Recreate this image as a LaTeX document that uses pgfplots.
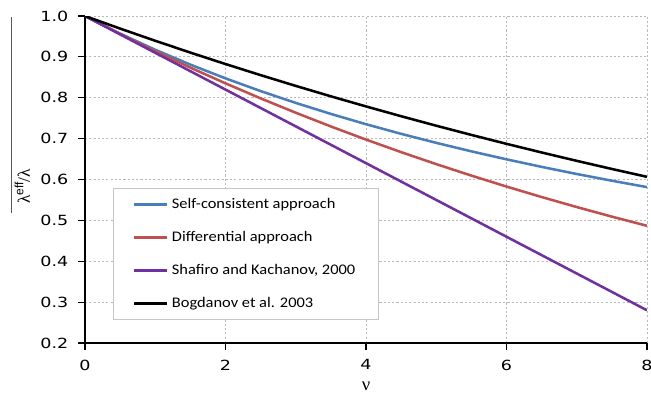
\documentclass[border=0pt]{standalone}
\usepackage{fontspec}
\usepackage{pgfplots}
\pgfplotsset{compat=1.18}
\setmainfont{DejaVu Sans}
\newfontfamily\tickfont[FakeStretch=1.25]{DejaVu Sans}
\newfontfamily\legfont[FakeStretch=1.12]{Carlito}
\newfontfamily\lamfont{Liberation Serif}
\newfontfamily\sansA{Liberation Sans}
\definecolor{cblue}{HTML}{4A7EBB}
\definecolor{cred}{HTML}{C0504D}
\definecolor{cpurple}{HTML}{7030A0}
\begin{document}
\begin{tikzpicture}
\begin{axis}[
  scale only axis,
  width=421.5pt, height=245.25pt,
  xmin=0, xmax=8, ymin=0.2, ymax=1.0,
  xtick={0,2,4,6,8},
  ytick={0.2,0.3,0.4,0.5,0.6,0.7,0.8,0.9,1.0},
  axis x line=bottom, axis y line=left,
  axis line style={-, line width=1.4pt, black},
  tick align=outside,
  major tick length=5pt,
  tick style={line width=0.9pt, black},
  grid=major,
  major grid style={dashed, dash pattern=on 1.6pt off 1.6pt, gray!55, line width=0.6pt},
  /pgf/number format/assume math mode=true,
  ticklabel style={font=\tickfont\fontsize{10.5}{12}\selectfont},
  xticklabel style={yshift=-4pt},
  yticklabel style={xshift=-4pt, /pgf/number format/.cd, fixed, fixed zerofill, precision=1},
  xlabel={{\lamfont\fontsize{14}{16}\selectfont ν}},
  xlabel style={at={(axis description cs:0.5,-0.133)}, anchor=center, inner sep=0pt},
  ylabel={\makebox[0pt][l]{\hspace*{-6.75pt}\color{gray!70!black}\rule[13.5pt]{147pt}{0.7pt}}{\lamfont\fontsize{13}{15}\selectfont λ}{\sansA\fontsize{9}{10}\selectfont\raisebox{5pt}{eff}}{\lamfont\fontsize{13}{15}\selectfont /λ}},
  ylabel style={at={(axis description cs:-0.0979,0.4251)}, anchor=base west, inner sep=0pt},
  legend style={at={(rel axis cs:0.0504,0.0703)}, anchor=south west,
    draw=gray!45, line width=0.6pt, fill=white,
    inner xsep=14.5pt, inner ysep=7.3pt,
    row sep=15.3pt,
    font=\legfont\fontsize{11}{13}\selectfont,
    nodes={inner xsep=2.5pt, inner ysep=0pt, text height=7.5pt, text depth=2pt}},
  legend cell align=left,
  legend image code/.code={\draw[#1] (0pt,0pt) -- (24.75pt,0pt);},
]
\addplot[cblue, line width=1.9pt] coordinates {
(0,1) (0.5,0.95694) (1,0.91743) (1.5,0.88106) (2,0.84746) (2.5,0.81633) (3,0.78740) (3.5,0.76046) (4,0.73529) (4.5,0.71174) (5,0.68966) (5.5,0.66890) (6,0.64935) (6.5,0.63091) (7,0.61350) (7.5,0.59701) (8,0.58140)};
\addlegendentry{\makebox[137pt][l]{Self-consistent approach}}
\addplot[cred, line width=1.9pt] coordinates {
(0,1) (0.5,0.95600) (1,0.91393) (1.5,0.87372) (2,0.83527) (2.5,0.79852) (3,0.76338) (3.5,0.72979) (4,0.69768) (4.5,0.66698) (5,0.63763) (5.5,0.60957) (6,0.58275) (6.5,0.55711) (7,0.53259) (7.5,0.50916) (8,0.48675)};
\addlegendentry{Differential approach}
\addplot[cpurple, line width=1.9pt] coordinates {
(0,1) (1,0.91) (2,0.82) (3,0.73) (4,0.64) (5,0.55) (6,0.46) (7,0.37) (8,0.28)};
\addlegendentry{Shafiro and Kachanov, 2000}
\addplot[black, line width=1.9pt] coordinates {
(0,1) (0.5,0.96923) (1,0.93941) (1.5,0.91051) (2,0.88250) (2.5,0.85535) (3,0.82903) (3.5,0.80353) (4,0.77880) (4.5,0.75484) (5,0.73161) (5.5,0.70911) (6,0.68729) (6.5,0.66614) (7,0.64565) (7.5,0.62578) (8,0.60653)};
\addlegendentry{Bogdanov et al. 2003}
\end{axis}
\pgfresetboundingbox
\useasboundingbox (-63.75pt,-48pt) rectangle (424.5pt,257.25pt);
\end{tikzpicture}
\end{document}
